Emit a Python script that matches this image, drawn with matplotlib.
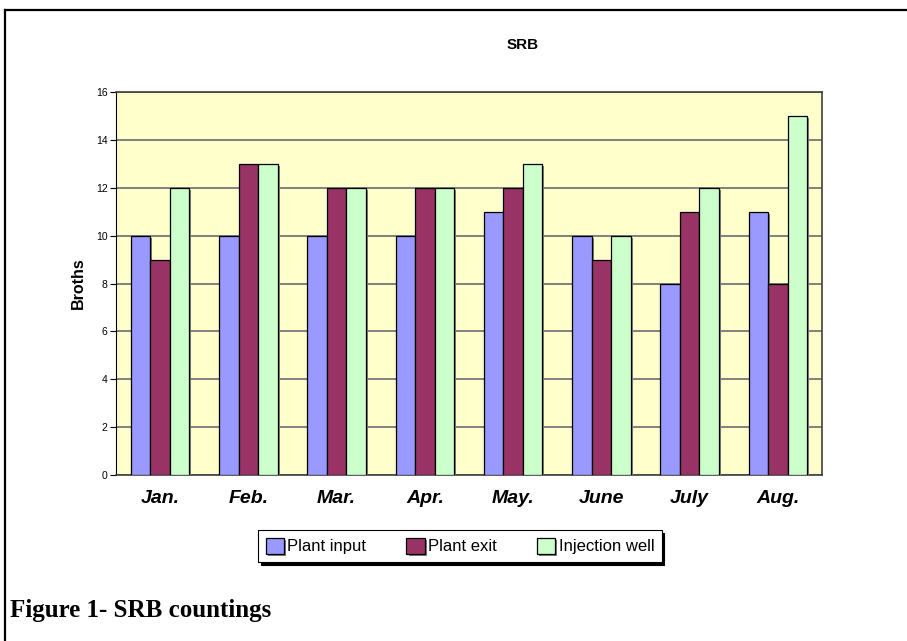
import matplotlib.pyplot as plt
import matplotlib.patheffects as pe
from matplotlib.lines import Line2D
import numpy as np

# SRB countings per month
months = ["Jan.", "Feb.", "Mar.", "Apr.", "May.", "June", "July", "Aug."]
plant_input = [10, 10, 10, 10, 11, 10, 8, 11]
plant_exit = [9, 13, 12, 12, 12, 9, 11, 8]
injection_well = [12, 13, 12, 12, 13, 10, 12, 15]

series = [
    ("Plant input", plant_input, "#9999FF"),
    ("Plant exit", plant_exit, "#993366"),
    ("Injection well", injection_well, "#CCFFCC"),
]

plt.rcParams["font.family"] = ["Liberation Sans", "DejaVu Sans"]

W, H = 907, 641
fig = plt.figure(figsize=(W / 100, H / 100), dpi=100)
ax = fig.add_axes([116 / W, 1 - 475 / H, 706 / W, 383 / H])
ax.set_facecolor("#FFFFCC")

x = np.arange(len(months))
bar_w = 0.221
shadow = [pe.SimplePatchShadow(offset=(1.5, -1.5), shadow_rgbFace="#808080", alpha=1.0), pe.Normal()]
for i, (name, vals, color) in enumerate(series):
    bars = ax.bar(x + (i - 1) * bar_w, vals, bar_w, color=color, edgecolor="black",
                  linewidth=0.9, label=name, zorder=3)
    for b in bars:
        b.set_path_effects(shadow)

ax.set_xlim(-0.5, len(months) - 0.5)
ax.set_ylim(0, 16)
ax.set_yticks(np.arange(0, 17, 2))
ax.yaxis.grid(True, color="#808080", linewidth=1.4, zorder=1)
ax.set_axisbelow(True)
ax.tick_params(axis="y", labelsize=7.5, length=4, width=0.8, pad=2)
ax.tick_params(axis="x", length=0, pad=11)
ax.set_xticks(x)
ax.set_xticklabels(months, fontsize=14, fontweight="bold", fontstyle="italic")

for side in ["top", "right"]:
    ax.spines[side].set_color("#404040")
    ax.spines[side].set_linewidth(1.2)
ax.spines["left"].set_color("black")
ax.spines["bottom"].set_color("#404040")
ax.spines["bottom"].set_linewidth(1.2)

ax.set_ylabel("Broths", fontsize=11.5, fontweight="bold", labelpad=7)
fig.text(523 / W, 1 - 45 / H, "SRB", ha="center", va="center", fontsize=11, fontweight="bold")

leg = fig.legend(loc="center", bbox_to_anchor=(460 / W, 1 - 546 / H), ncol=3,
                 frameon=True, fancybox=False, edgecolor="black", fontsize=12,
                 shadow={"color": "black", "alpha": 1.0},
                 handlelength=1.1, handleheight=1.15, handletextpad=0.2,
                 columnspacing=2.4, borderpad=0.45)
leg.get_frame().set_linewidth(0.8)

fig.text(10 / W, 1 - 611 / H, "Figure 1- SRB countings", fontsize=18, fontweight="bold",
         family=["Liberation Serif", "DejaVu Serif"], ha="left", va="center")

# outer frame (left and top edges)
fig.add_artist(Line2D([5 / W, 5 / W], [0, 1 - 10 / H], color="black", linewidth=1.6,
                      transform=fig.transFigure))
fig.add_artist(Line2D([5 / W, 1], [1 - 10 / H, 1 - 10 / H], color="black", linewidth=1.6,
                      transform=fig.transFigure))

fig.savefig("out.png", dpi=100)
